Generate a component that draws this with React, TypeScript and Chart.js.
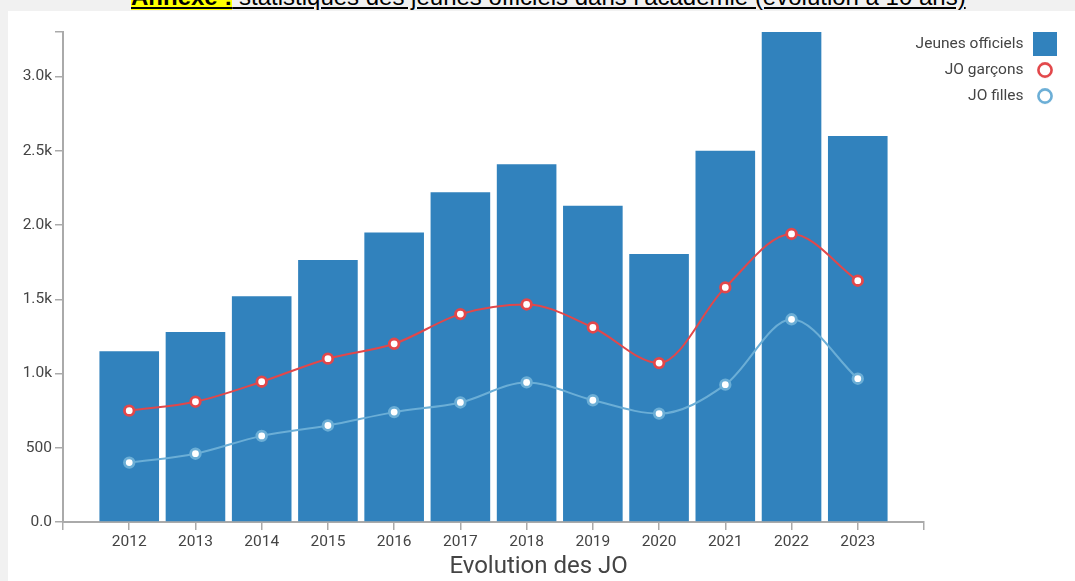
import React, { useEffect, useRef } from 'react';
import { Chart, registerables } from 'chart.js';

Chart.register(...registerables);

// ---- data ----
const years = [2012, 2013, 2014, 2015, 2016, 2017, 2018, 2019, 2020, 2021, 2022, 2023];
const jeunesOfficiels = [1150, 1280, 1520, 1765, 1950, 2220, 2410, 2130, 1805, 2500, 3300, 2600];
const joGarcons = [750, 810, 945, 1100, 1200, 1400, 1465, 1310, 1070, 1580, 1940, 1625];
const joFilles = [400, 460, 580, 650, 740, 805, 940, 820, 730, 925, 1365, 965];
const seriesNames = ['Jeunes officiels', 'JO garçons', 'JO filles'];
const xDomain = [2011, 2024];
const yTickValues = [0, 500, 1000, 1500, 2000, 2500, 3000, 3300];
const yTickLabels = ['0.0', '500', '1.0k', '1.5k', '2.0k', '2.5k', '3.0k', ''];
const xAxisTitle = 'Evolution des JO';
const pageTitleHighlight = 'Annexe :';
const pageTitleRest = ' statistiques des jeunes officiels dans l\u2019académie (évolution à 10 ans)';

// ---- styles ----
const BAR_COLOR = '#3182bd';
const RED = '#e2474a';
const LIGHT_BLUE = '#6baed6';
const TEXT = '#444';
const AXIS = '#aaa';

function makeSquare(color: string, size: number) {
  const c = document.createElement('canvas');
  c.width = size;
  c.height = size;
  const ctx = c.getContext('2d')!;
  ctx.fillStyle = color;
  ctx.fillRect(0, 0, size, size);
  return c;
}

function makeRing(color: string, size: number, r: number, lw: number) {
  const c = document.createElement('canvas');
  c.width = size;
  c.height = size;
  const ctx = c.getContext('2d')!;
  ctx.beginPath();
  ctx.arc(size / 2, size / 2, r, 0, Math.PI * 2);
  ctx.fillStyle = '#fff';
  ctx.fill();
  ctx.lineWidth = lw;
  ctx.strokeStyle = color;
  ctx.stroke();
  return c;
}

// lets the right-hand legend float slightly over the plot's right/top edge
const legendFloat = {
  id: 'legendFloat',
  afterLayout(chart: any) {
    const lg = chart.legend;
    if (!lg) return;
    lg.left -= 24;
    lg.width += 24;
    lg.top -= 6.2;
    lg.height += 6.2;
  },
};

export default function App() {
  const ref = useRef<HTMLCanvasElement | null>(null);

  useEffect(() => {
    if (!ref.current) return;
    Chart.defaults.font.family = 'Roboto';
    const symbols = [makeSquare(BAR_COLOR, 24), makeRing(RED, 20, 6.6, 2.6), makeRing(LIGHT_BLUE, 20, 6.6, 2.6)];
    const xTicks: number[] = [xDomain[0], ...years, xDomain[1]];

    const chart = new Chart(ref.current, {
      type: 'bar',
      data: {
        datasets: [
          {
            type: 'bar',
            label: seriesNames[0],
            data: years.map((y, i) => ({ x: y, y: jeunesOfficiels[i] })),
            backgroundColor: BAR_COLOR,
            borderWidth: 0,
            barPercentage: 0.9,
            categoryPercentage: 1,
            order: 3,
          },
          {
            type: 'line',
            label: seriesNames[1],
            data: years.map((y, i) => ({ x: y, y: joGarcons[i] })),
            borderColor: RED,
            borderWidth: 2,
            cubicInterpolationMode: 'monotone',
            pointRadius: 4.8,
            pointBackgroundColor: '#fff',
            pointBorderColor: RED,
            pointBorderWidth: 2.8,
            fill: false,
            order: 1,
          },
          {
            type: 'line',
            label: seriesNames[2],
            data: years.map((y, i) => ({ x: y, y: joFilles[i] })),
            borderColor: LIGHT_BLUE,
            borderWidth: 2,
            cubicInterpolationMode: 'monotone',
            pointRadius: 4.8,
            pointBackgroundColor: '#fff',
            pointBorderColor: LIGHT_BLUE,
            pointBorderWidth: 2.8,
            fill: false,
            order: 2,
          },
        ] as any,
      },
      options: {
        responsive: false,
        animation: false,
        layout: { padding: { top: 21, right: 5.75, bottom: 0, left: 0 } },
        plugins: {
          tooltip: { enabled: false },
          legend: {
            display: true,
            position: 'right',
            align: 'start',
            rtl: true,
            maxWidth: 145.25,
            labels: {
              usePointStyle: true,
              pointStyleWidth: 27.5,
              padding: 10.5,
              color: TEXT,
              font: { size: 15.5 },
              generateLabels: () =>
                seriesNames.map((name, i) => ({
                  text: name,
                  pointStyle: symbols[i] as any,
                  fillStyle: '#fff',
                  strokeStyle: '#fff',
                  lineWidth: 0,
                  hidden: false,
                  datasetIndex: i,
                  fontColor: TEXT,
                })),
            },
          },
          title: {
            display: true,
            position: 'bottom',
            text: xAxisTitle,
            color: TEXT,
            font: { size: 24, weight: 'normal', lineHeight: 1.2 },
            padding: { top: 3, bottom: 0 },
          },
        },
        scales: {
          x: {
            type: 'linear',
            min: xDomain[0],
            max: xDomain[1],
            offset: false,
            afterBuildTicks: (s: any) => {
              s.ticks = xTicks.map((v) => ({ value: v }));
            },
            afterFit: (s: any) => {
              s.height = 27.2;
            },
            ticks: {
              autoSkip: false,
              maxRotation: 0,
              padding: 3,
              color: TEXT,
              font: { size: 15.5 },
              callback: (v: any) => (years.includes(Number(v)) ? String(v) : ''),
            },
            grid: {
              offset: false,
              drawOnChartArea: false,
              drawTicks: true,
              tickLength: 8,
              tickColor: AXIS,
              lineWidth: 1.5,
            },
            border: { display: true, color: AXIS, width: 2 },
          },
          y: {
            type: 'linear',
            min: 0,
            max: yTickValues[yTickValues.length - 1],
            afterBuildTicks: (s: any) => {
              s.ticks = yTickValues.map((v) => ({ value: v }));
            },
            afterFit: (s: any) => {
              s.width = 55;
            },
            ticks: {
              padding: 3,
              color: TEXT,
              font: { size: 15.5, lineHeight: 0.8 },
              callback: (v: any) => {
                const idx = yTickValues.indexOf(Number(v));
                return idx >= 0 ? yTickLabels[idx] : '';
              },
            },
            grid: { drawOnChartArea: false, drawTicks: true, tickLength: 8, tickColor: AXIS, lineWidth: 1.5 },
            border: { display: true, color: AXIS, width: 2 },
          },
        },
      } as any,
      plugins: [legendFloat],
    });
    return () => chart.destroy();
  }, []);

  return (
    <div
      style={{
        position: 'fixed',
        left: 0,
        top: 0,
        width: 1075,
        height: 581,
        background: '#f1f1f1',
        overflow: 'hidden',
      }}
    >
      <div
        style={{
          position: 'absolute',
          left: 131,
          top: -17,
          whiteSpace: 'nowrap',
          fontFamily: '"Liberation Sans", Arial, sans-serif',
          fontSize: 24,
          color: '#000',
          textDecoration: 'underline',
        }}
      >
        <span style={{ fontWeight: 'bold', background: '#ffff00' }}>{pageTitleHighlight}</span>
        {pageTitleRest}
      </div>
      <div
        style={{
          position: 'absolute',
          left: 8,
          top: 11,
          width: 1067,
          height: 570,
          background: '#fff',
        }}
      >
        <canvas ref={ref} width={1067} height={570} style={{ display: 'block' }} />
      </div>
    </div>
  );
}
